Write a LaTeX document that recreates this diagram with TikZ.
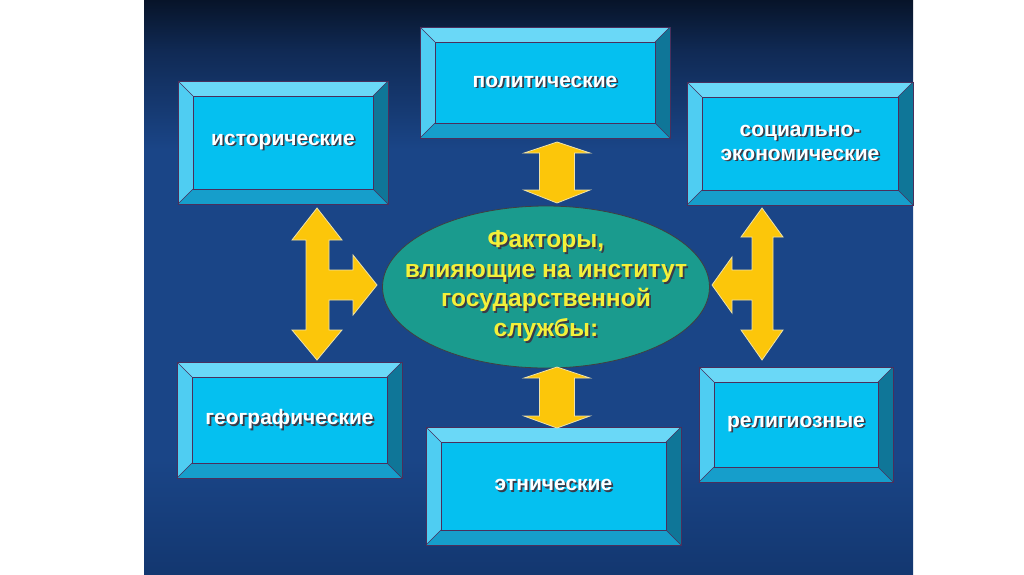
\documentclass[tikz,border=0pt]{standalone}
\usepackage{fontspec}
\setmainfont{Liberation Sans}
\usetikzlibrary{shapes.geometric}
\definecolor{pnlT}{HTML}{071429}
\definecolor{pnlU}{HTML}{102A55}
\definecolor{pnlM}{HTML}{1A4587}
\definecolor{pnlB}{HTML}{133770}
\definecolor{facec}{HTML}{05C0F0}
\definecolor{bevtopc}{HTML}{6AD8F7}
\definecolor{bevleftc}{HTML}{4FCDF2}
\definecolor{bevbotc}{HTML}{169ECB}
\definecolor{bevrightc}{HTML}{0F7698}
\definecolor{edgec}{HTML}{4A2F5C}
\definecolor{shadowc}{HTML}{3A3A48}
\definecolor{ellc}{HTML}{1A9B8E}
\definecolor{ylw}{HTML}{F4F03A}
\definecolor{arrowc}{HTML}{FCC60A}
\definecolor{arrowedge}{HTML}{EFE2A8}
\pgfdeclarelayer{bg}
\pgfdeclarelayer{mid}
\pgfsetlayers{bg,mid,main}
% the path fills the 25bp..75bp band of the shading (25bp = bottom, 75bp = top)
\pgfdeclareverticalshading{panelshade}{100bp}{color(0bp)=(pnlB); color(25bp)=(pnlB); color(35bp)=(pnlM); color(62bp)=(pnlM); color(70.5bp)=(pnlU); color(75bp)=(pnlT); color(100bp)=(pnlT)}
\newcommand\shd[2]{\leavevmode\rlap{\kern1.7pt\raisebox{-1.7pt}{\textcolor{shadowc}{#2}}}\textcolor{#1}{#2}}
\tikzset{
  boxtext/.style={rectangle, inner sep=0pt, outer sep=0pt, align=center,
    font=\fontsize{21}{24}\selectfont\bfseries},
  edge/.style={draw=edgec, line width=0.7pt},
  blockarrow/.style={fill=arrowc, draw=arrowedge, line width=0.8pt, line join=miter},
  centreell/.style={ellipse, fill=ellc, draw=black!75, line width=0.8pt, inner sep=0pt,
    minimum width=327pt, minimum height=162pt},
  centretext/.style={align=center, inner sep=0pt,
    font=\fontsize{24.6}{29.5}\selectfont\bfseries}
}
\newcommand\bevbox[6]{%
  \node[boxtext, minimum width=#3pt, minimum height=#4pt] (#1) at (#2) {#5};
  \begin{pgfonlayer}{mid}
    \fill[facec] (#1.north west) rectangle (#1.south east);
    \fill[bevtopc] (#1.north west) -- (#1.north east) -- ([shift={(-#6,#6)}]#1.north east) -- ([shift={(#6,#6)}]#1.north west) -- cycle;
    \fill[bevleftc] (#1.north west) -- ([shift={(#6,#6)}]#1.north west) -- ([shift={(#6,-#6)}]#1.south west) -- (#1.south west) -- cycle;
    \fill[bevbotc] (#1.south west) -- ([shift={(#6,-#6)}]#1.south west) -- ([shift={(-#6,-#6)}]#1.south east) -- (#1.south east) -- cycle;
    \fill[bevrightc] (#1.north east) -- (#1.south east) -- ([shift={(-#6,-#6)}]#1.south east) -- ([shift={(-#6,#6)}]#1.north east) -- cycle;
    \draw[edge] (#1.north west) rectangle (#1.south east);
    \draw[edge, line width=0.5pt] ([shift={(#6,#6)}]#1.north west) rectangle ([shift={(-#6,-#6)}]#1.south east);
    \draw[edge, line width=0.5pt] (#1.north west) -- ([shift={(#6,#6)}]#1.north west)
      (#1.north east) -- ([shift={(-#6,#6)}]#1.north east)
      (#1.south west) -- ([shift={(#6,-#6)}]#1.south west)
      (#1.south east) -- ([shift={(-#6,-#6)}]#1.south east);
  \end{pgfonlayer}}
\begin{document}
\begin{tikzpicture}[x=1pt, y=-1pt]
\useasboundingbox (0,0) rectangle (1024,574);
\begin{pgfonlayer}{bg}
  \fill[white] (0,0) rectangle (1024,574);
  \shade[shading=panelshade] (144,0) rectangle (913,574);
\end{pgfonlayer}

% factor boxes
\bevbox{hist}{283,142.5}{210}{123}{\shd{white}{исторические}}{15}
\bevbox{polit}{545,82.5}{250}{111}{\shd{white}{политические}}{15}
\bevbox{soc}{800,143.5}{226}{123}{\shd{white}{социально-}\\\shd{white}{экономические}}{15}
\bevbox{geo}{289.5,420}{225}{116}{\shd{white}{географические}}{15}
\bevbox{eth}{553.5,486}{255}{118}{\shd{white}{этнические}}{15}
\bevbox{rel}{796,424.5}{194}{115}{\shd{white}{религиозные}}{15}

% centre
\node[centreell] (f) at (546,287) {};
\node[centretext] (ftext) at (f.center) {\shd{ylw}{Факторы,}\\\shd{ylw}{влияющие на институт}\\\shd{ylw}{государственной}\\\shd{ylw}{службы:}};

% block arrows
\path[blockarrow] (557,142) -- (590,153) -- (574.5,153) -- (574.5,190) -- (590,190) -- (557,203) -- (524,190) -- (539.5,190) -- (539.5,153) -- (524,153) -- cycle;
\path[blockarrow] (557,367) -- (590,378) -- (574.5,378) -- (574.5,416) -- (590,416) -- (557,428) -- (524,416) -- (539.5,416) -- (539.5,378) -- (524,378) -- cycle;
\path[blockarrow] (317,208) -- (342,240) -- (329,240) -- (329,270) -- (353,270) -- (353,255) -- (377,285) -- (353,315) -- (353,300) -- (329,300) -- (329,330) -- (342,330) -- (317,360) -- (292,330) -- (306,330) -- (306,240) -- (292,240) -- cycle;
\path[blockarrow] (762,208) -- (783,237) -- (773,237) -- (773,330) -- (783,330) -- (762,360) -- (741,330) -- (752,330) -- (752,300) -- (732,300) -- (732,313) -- (712,285) -- (732,257) -- (732,270) -- (752,270) -- (752,237) -- (741,237) -- cycle;
\end{tikzpicture}
\end{document}
